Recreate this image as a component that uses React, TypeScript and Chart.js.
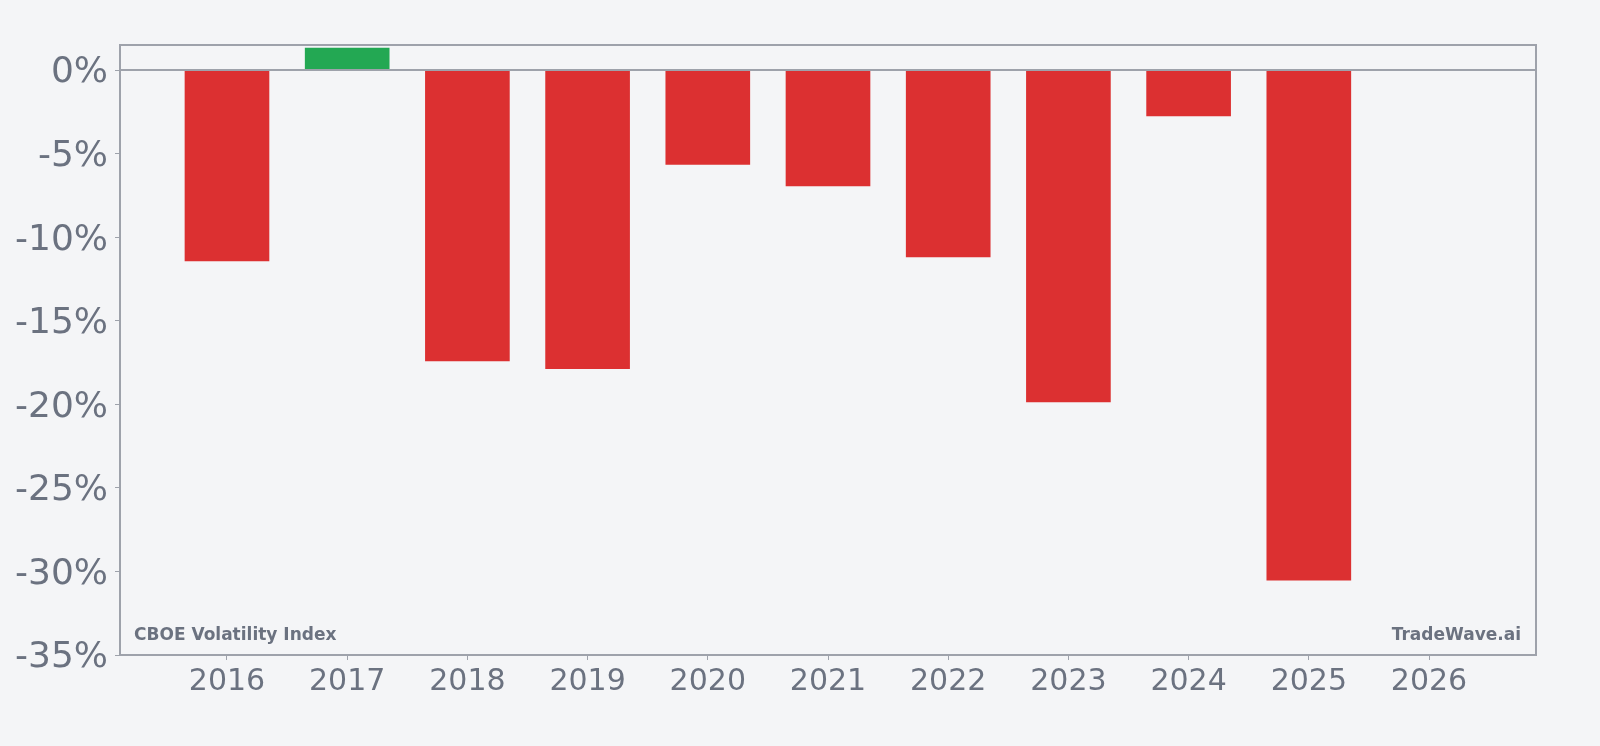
import React, { useEffect, useRef } from "react";
import { Chart, registerables } from "chart.js";

Chart.register(...registerables);

const years = [2016, 2017, 2018, 2019, 2020, 2021, 2022, 2023, 2024, 2025];
const returns = [-11.42, 1.32, -17.41, -17.87, -5.65, -6.93, -11.18, -19.85, -2.74, -30.52];
const xTickYears = [2016, 2017, 2018, 2019, 2020, 2021, 2022, 2023, 2024, 2025, 2026];
const yTickValues = [-35, -30, -25, -20, -15, -10, -5, 0];
const leftLabel = "CBOE Volatility Index";
const rightLabel = "TradeWave.ai";

const BG = "#f4f5f7";
const AXIS = "#9ea2ab";
const TEXT = "#6b7280";
const RED = "#dc3031";
const GREEN = "#23a853";

export default function App() {
  const ref = useRef<HTMLCanvasElement | null>(null);

  useEffect(() => {
    const canvas = ref.current;
    if (!canvas) return;
    const framePlugin = {
      id: "frame",
      beforeDraw(chart: any) {
        const { ctx } = chart;
        ctx.save();
        ctx.fillStyle = BG;
        ctx.fillRect(0, 0, chart.width, chart.height);
        ctx.restore();
      },
      afterDatasetsDraw(chart: any) {
        const { ctx, chartArea } = chart;
        const y0 = chart.scales.y.getPixelForValue(0);
        ctx.save();
        ctx.strokeStyle = AXIS;
        ctx.lineWidth = 2;
        ctx.beginPath();
        ctx.moveTo(chartArea.left, y0);
        ctx.lineTo(chartArea.right, y0);
        ctx.stroke();
        ctx.strokeRect(chartArea.left, chartArea.top, chartArea.right - chartArea.left, chartArea.bottom - chartArea.top);
        ctx.fillStyle = TEXT;
        ctx.font = "bold 17px 'DejaVu Sans'";
        ctx.textBaseline = "alphabetic";
        ctx.textAlign = "left";
        ctx.fillText(leftLabel, chartArea.left + 14, chartArea.bottom - 15);
        ctx.textAlign = "right";
        ctx.fillText(rightLabel, chartArea.right - 15, chartArea.bottom - 15);
        ctx.restore();
      },
    };

    const chart = new Chart(canvas, {
      type: "bar",
      data: {
        datasets: [
          {
            data: years.map((x, i) => ({ x, y: returns[i] })),
            backgroundColor: returns.map((v) => (v >= 0 ? GREEN : RED)),
            borderWidth: 0,
            barThickness: 84,
          } as any,
        ],
      },
      options: {
        animation: false,
        responsive: false,
        maintainAspectRatio: false,
        layout: { padding: { top: 45, right: 64, left: 0, bottom: 0 } },
        plugins: { legend: { display: false }, tooltip: { enabled: false } },
        scales: {
          x: {
            type: "linear",
            offset: false,
            min: 2015.11,
            max: 2026.89,
            afterBuildTicks: (s: any) => {
              s.ticks = xTickYears.map((v) => ({ value: v }));
            },
            afterFit: (s: any) => {
              s.height = 91;
            },
            grid: { offset: false, drawOnChartArea: false, tickLength: 5, tickColor: AXIS, lineWidth: 1 },
            border: { display: false },
            ticks: {
              color: TEXT,
              font: { family: "'DejaVu Sans'", size: 30 },
              padding: 4,
              maxRotation: 0,
              autoSkip: false,
              callback: (v: any) => String(v),
            },
          },
          y: {
            type: "linear",
            min: -35,
            max: 1.5,
            afterBuildTicks: (s: any) => {
              s.ticks = yTickValues.map((v) => ({ value: v }));
            },
            afterFit: (s: any) => {
              s.width = 120;
            },
            grid: { drawOnChartArea: false, tickLength: 5, tickColor: AXIS, lineWidth: 1 },
            border: { display: false },
            ticks: {
              color: TEXT,
              font: { family: "'DejaVu Sans'", size: 36 },
              padding: 7,
              labelOffset: 3,
              autoSkip: false,
              callback: (v: any) => `${v}%`,
            },
          },
        },
      },
      plugins: [framePlugin],
    });
    return () => chart.destroy();
  }, []);

  return (
    <div style={{ position: "absolute", left: 0, top: 0, width: 1600, height: 746, background: BG }}>
      <canvas ref={ref} width={1600} height={746} style={{ display: "block", width: 1600, height: 746 }} />
    </div>
  );
}
